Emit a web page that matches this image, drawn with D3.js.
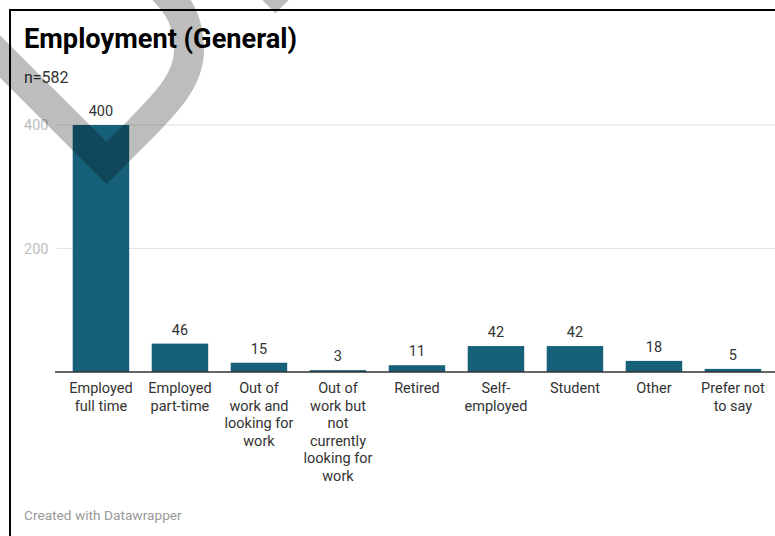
<!DOCTYPE html>
<html>
<head>
<meta charset="utf-8">
<script src="https://cdn.jsdelivr.net/npm/d3@7"></script>
<style>
  html, body { margin: 0; padding: 0; background: #fff; }
  svg { display: block; font-family: Roboto, "Noto Sans", sans-serif; }
</style>
</head>
<body>
<svg id="chart" width="775" height="536"></svg>
<script>
// Employment status of respondents
const categories = [
  "Employed\nfull time",
  "Employed\npart-time",
  "Out of\nwork and\nlooking for\nwork",
  "Out of\nwork but\nnot\ncurrently\nlooking for\nwork",
  "Retired",
  "Self-\nemployed",
  "Student",
  "Other",
  "Prefer not\nto say"
];
const values = [400, 46, 15, 3, 11, 42, 42, 18, 5];
const yTicks = [200, 400];
const title = "Employment (General)";
const subtitle = "n=582";
const credit = "Created with Datawrapper";

const svg = d3.select("#chart");
const W = 775, H = 536;

// frame around the graphic
svg.append("rect")
  .attr("x", 10).attr("y", 10)
  .attr("width", W).attr("height", H)
  .attr("fill", "none")
  .attr("stroke", "#000")
  .attr("stroke-width", 2);

// scales
const x = d3.scaleBand()
  .domain(categories)
  .range([61.45, 772.45])
  .paddingInner(0.285)
  .paddingOuter(0.1425);

const y = d3.scaleLinear()
  .domain([0, 400])
  .range([372, 125]);

// header
svg.append("text")
  .attr("x", 24).attr("y", 48)
  .attr("font-size", 27.2)
  .attr("font-weight", 700)
  .attr("fill", "#000")
  .text(title);

svg.append("text")
  .attr("x", 24).attr("y", 83)
  .attr("font-size", 16)
  .attr("fill", "#333")
  .text(subtitle);

// gridlines and value-axis labels
const grid = svg.append("g");
grid.selectAll("line")
  .data(yTicks)
  .join("line")
  .attr("x1", 57).attr("x2", W)
  .attr("y1", d => y(d)).attr("y2", d => y(d))
  .attr("stroke", "#e3e3e3")
  .attr("stroke-width", 1);

grid.selectAll("text")
  .data(yTicks)
  .join("text")
  .attr("x", 24)
  .attr("y", d => y(d))
  .attr("dy", "0.35em")
  .attr("font-size", 14.5)
  .attr("fill", "#bdbdbd")
  .text(d => d);

// bars
svg.append("g")
  .selectAll("rect")
  .data(values)
  .join("rect")
  .attr("x", (d, i) => x(categories[i]))
  .attr("y", d => y(d))
  .attr("width", x.bandwidth())
  .attr("height", d => y(0) - y(d))
  .attr("fill", "#17607a");

// value labels above each bar
svg.append("g")
  .selectAll("text")
  .data(values)
  .join("text")
  .attr("x", (d, i) => x(categories[i]) + x.bandwidth() / 2)
  .attr("y", d => y(d) - 9)
  .attr("text-anchor", "middle")
  .attr("font-size", 14.5)
  .attr("fill", "#333")
  .text(d => d);

// baseline
svg.append("line")
  .attr("x1", 55).attr("x2", W)
  .attr("y1", y(0)).attr("y2", y(0))
  .attr("stroke", "#333")
  .attr("stroke-width", 1.5);

// category labels, one tspan per line
const cat = svg.append("g")
  .selectAll("text")
  .data(categories)
  .join("text")
  .attr("x", d => x(d) + x.bandwidth() / 2)
  .attr("y", 393)
  .attr("text-anchor", "middle")
  .attr("font-size", 14.5)
  .attr("fill", "#333");

cat.each(function (d) {
  const t = d3.select(this);
  const cx = x(d) + x.bandwidth() / 2;
  d.split("\n").forEach((line, k) => {
    t.append("tspan")
      .attr("x", cx)
      .attr("y", 393 + k * 17.6)
      .text(line);
  });
});

// footer credit
svg.append("text")
  .attr("x", 24).attr("y", 520)
  .attr("font-size", 13.7)
  .attr("fill", "#999")
  .text(credit);

// hand-drawn check mark annotation laid over the graphic
const mark = svg.append("g")
  .attr("fill", "none")
  .attr("stroke", "#000")
  .attr("stroke-opacity", 0.26)
  .attr("stroke-width", 30)
  .attr("stroke-linejoin", "miter")
  .attr("stroke-miterlimit", 10);

mark.append("path")
  .attr("d", "M-40,16.5 L106.5,163 L138,131.5 C165,104 190,80 189,48 C188,25 182,10 168,-5 L150,-25");

mark.append("path")
  .attr("d", "M225,-58.5 L275.5,-8 L330,-62.5");
</script>
</body>
</html>
